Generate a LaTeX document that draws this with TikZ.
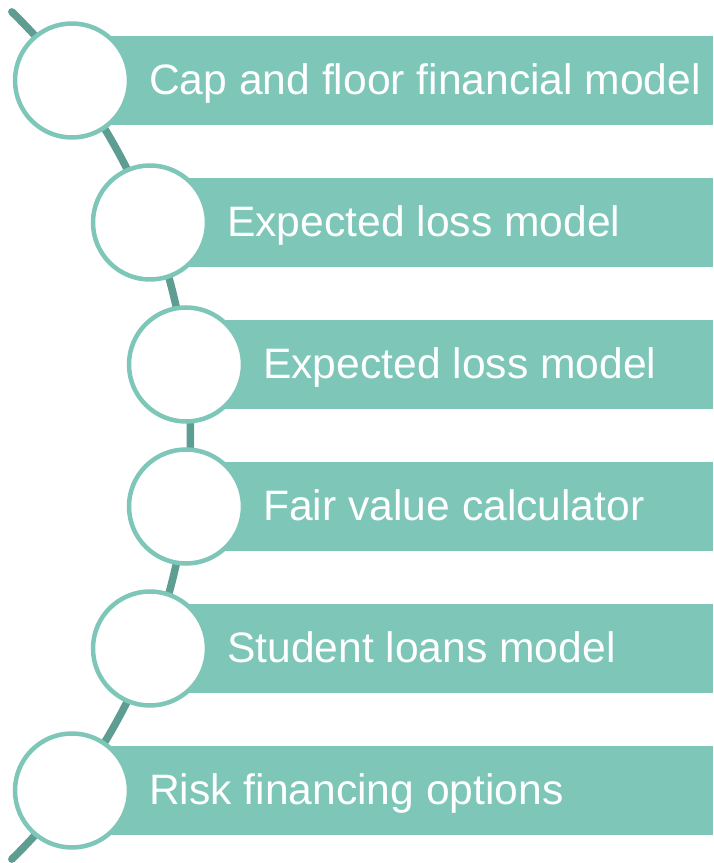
\documentclass[tikz,border=0pt]{standalone}
\usepackage{fontspec}
\setmainfont{Liberation Sans}

\definecolor{barteal}{RGB}{125,198,184}
\definecolor{spineteal}{RGB}{94,158,146}

\begin{document}
\begin{tikzpicture}[x=1pt, y=1pt,
    bar/.style={fill=barteal, minimum height=89pt, inner sep=0pt, anchor=west},
    dot/.style={circle, draw=barteal, line width=4.5pt, fill=white, minimum size=114pt, inner sep=0pt},
    lbl/.style={text=white, anchor=base west, inner sep=0pt, font=\fontsize{42.6}{50}\selectfont}]
    \useasboundingbox (0,0) rectangle (713,863);
    % curved spine behind the circles
    \coordinate (o) at (-401.6,427.5);
    \draw[spineteal, line width=7.5pt, line cap=round] (o) ++(45.7:592) arc[start angle=45.7, end angle=-45.7, radius=592];
    % one row per model
    \foreach \x/\y/\t [count=\i] in {72/782.5/Cap and floor financial model,
        150/640.5/Expected loss model, 186/498.5/Expected loss model,
        186/356.5/Fair value calculator, 150/214.5/Student loans model,
        72/72.5/Risk financing options} {
        \node[bar, minimum width={713-\x}] (b\i) at (\x,\y) {};
        \node[dot] (c\i) at (\x,\y) {};
        \node[lbl] (t\i) at (\x+77,\y-14) {\t};
    }
\end{tikzpicture}
\end{document}
